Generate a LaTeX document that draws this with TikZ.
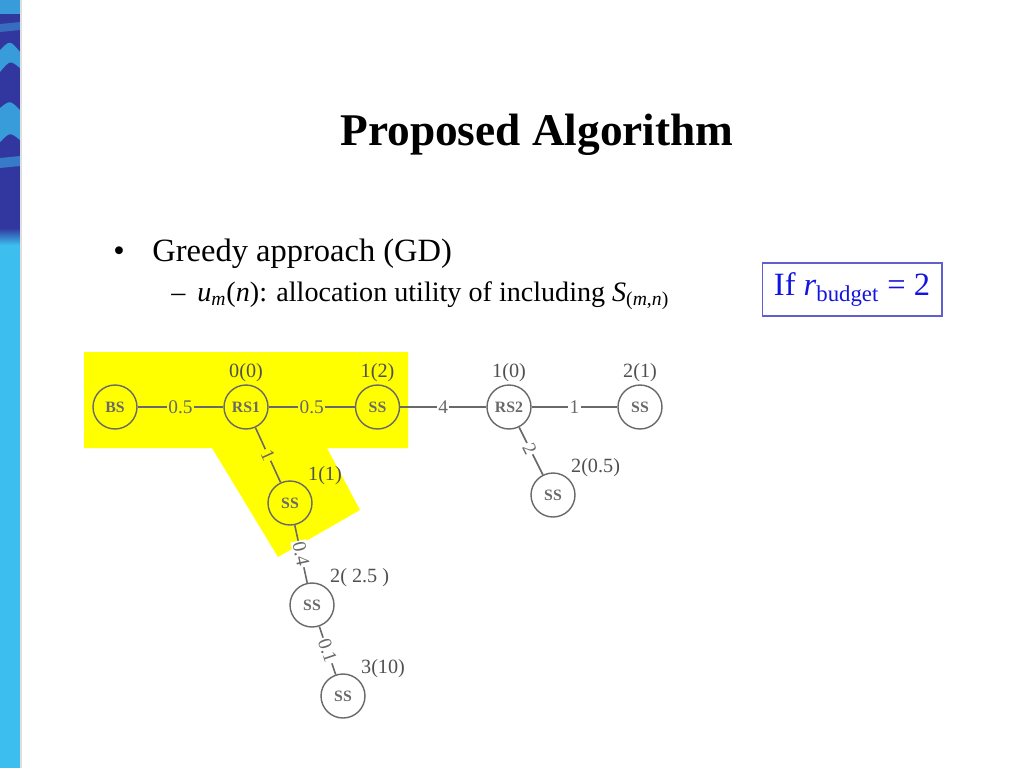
\documentclass[tikz,border=0pt]{standalone}
\usepackage{fontspec}
\setmainfont{Liberation Serif}
\usetikzlibrary{calc}

\definecolor{hilite}{RGB}{255,255,0}
\definecolor{netgray}{RGB}{105,105,105}
\definecolor{utilgray}{RGB}{80,80,80}
\definecolor{boxblue}{RGB}{95,95,205}
\definecolor{textblue}{RGB}{20,20,225}
\definecolor{stripe}{RGB}{60,190,238}
\definecolor{stripedark}{RGB}{50,55,160}

\tikzset{
	station/.style={circle, draw=netgray, line width=0.8pt, minimum size=0.88cm, inner sep=0pt, text=netgray, font=\fontsize{9}{9}\selectfont\bfseries},
	link/.style={draw=netgray, line width=0.9pt},
	cost/.style={fill=white, inner sep=0.8pt, text=netgray, font=\fontsize{11}{11}\selectfont},
	costy/.style={cost, fill=hilite},
	util/.style={text=utilgray, font=\fontsize{11.5}{11.5}\selectfont, inner sep=1pt},
	band/.style={stripe, opacity=0.75},
}

\begin{document}
\begin{tikzpicture}[x=0.02cm, y=-0.02cm]
				\useasboundingbox (0,0) rectangle (1024,768);
				\fill[white] (0,0) rectangle (1024,768);
				
				% left stripe
				\fill[stripe] (0,0) rectangle (20,768);
				\fill[stripedark] (0,0) rectangle (20,232);
				\shade[top color=stripedark, bottom color=stripe] (0,228) rectangle (20,245);
				\fill[band] (0,0) rectangle (20,14);
				\fill[band] (0,50) .. controls (10,40) .. (20,52) -- (20,68) .. controls (10,60) .. (0,72) -- cycle;
				\fill[band] (0,108) .. controls (10,100) .. (20,110) -- (20,140) .. controls (10,132) .. (0,142) -- cycle;
				\fill[band, opacity=0.5] (0,158) -- (20,156) -- (20,166) -- (0,168) -- cycle;
				\fill[band, opacity=0.4] (0,24) -- (20,22) -- (20,30) -- (0,32) -- cycle;
				\draw[gray!25, line width=0.6pt] (21,0) -- (21,768);
				
				% text
				\node (title) at (537,135) {\fontsize{25.8}{26}\selectfont\bfseries Proposed Algorithm};
				\node[anchor=base west, inner sep=0pt] (bullet) at (113,261) {\fontsize{18.5}{20}\selectfont •};
				\node[anchor=base west, inner sep=0pt] (greedy) at (152,261) {\fontsize{18.5}{20}\selectfont Greedy approach (GD)};
				\node[anchor=base west, inner sep=0pt] (dash) at (171,301) {\fontsize{16}{18}\selectfont –};
				\node[anchor=base west, inner sep=0pt] (utility) at (197,301) {\fontsize{16}{18}\selectfont \textit{u}\textsubscript{\textit{m}}(\textit{n}): allocation utility of including \textit{S}\textsubscript{(\textit{m},\textit{n})}};
				\node[draw=boxblue, line width=0.6pt, text=textblue, minimum width=3.6cm, minimum height=1.06cm] (budget) at (852,289.5) {\fontsize{18.5}{20}\selectfont If \textit{r}\textsubscript{budget} = 2};
				
				% selected part
				\fill[hilite] (84,352) -- (408,352) -- (408,448) -- (327,448) -- (360,510) -- (278,557) -- (212,448) -- (84,448) -- cycle;
				
				% stations
				\node[station] (bs) at (115,407) {BS};
				\node[station, label={[util]above:0(0)}] (rs1) at (246,407) {RS1};
				\node[station, label={[util]above:1(2)}] (ss1) at (377.5,407) {SS};
				\node[station, label={[util]above:1(0)}] (rs2) at (509,407) {RS2};
				\node[station, label={[util]above:2(1)}] (ss2) at (640,407) {SS};
				\node[station, label={[util]45:1(1)}] (ss3) at (290,503) {SS};
				\node[station, label={[util]45:2(0.5)}] (ss4) at (553,495) {SS};
				\node[station, label={[util]45:2( 2.5 )}] (ss5) at (312,605) {SS};
				\node[station, label={[util]45:3(10)}] (ss6) at (343,696) {SS};
				
				% links
				\draw[link] (bs) -- node[costy] {0.5} (rs1);
				\draw[link] (rs1) -- node[costy] {0.5} (ss1);
				\draw[link] (ss1) -- node[cost] {4} (rs2);
				\draw[link] (rs2) -- node[cost] {1} (ss2);
				\draw[link] (rs1) -- node[costy, sloped] {1} (ss3);
				\draw[link] (rs2) -- node[cost, sloped, pos=0.45] {2} (ss4);
				\draw[link] (ss3) -- node[cost, sloped] {0.4} (ss5);
				\draw[link] (ss5) -- node[cost, sloped] {0.1} (ss6);
			\end{tikzpicture}
\end{document}
